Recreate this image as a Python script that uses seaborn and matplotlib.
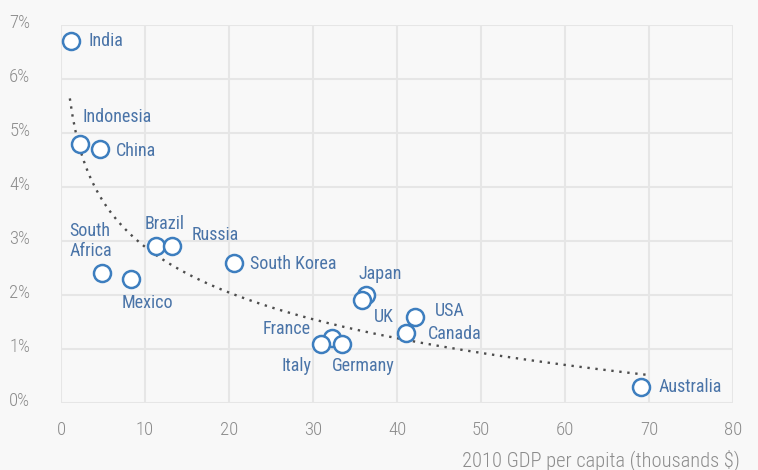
import numpy as np
import pandas as pd
import seaborn as sns
import matplotlib.pyplot as plt
from matplotlib import transforms

sns.set_theme(style='whitegrid')
plt.rcParams['font.family'] = ['Roboto Condensed', 'DejaVu Sans']

countries = ['India', 'Indonesia', 'China', 'South\nAfrica', 'Mexico', 'Brazil',
             'Russia', 'South Korea', 'Japan', 'UK', 'USA', 'Canada',
             'France', 'Italy', 'Germany', 'Australia']
gdp_per_capita = [1.2, 2.3, 4.6, 4.9, 8.3, 11.3, 13.2, 20.6, 36.3, 35.8,
                  42.1, 41.1, 32.3, 31.0, 33.5, 69.0]
growth_pct = [6.7, 4.8, 4.7, 2.4, 2.3, 2.9, 2.9, 2.6, 2.0, 1.9,
              1.6, 1.3, 1.2, 1.1, 1.1, 0.3]

# dotted log trend: growth = a + b * ln(gdp)
trend_a = 5.7
trend_b = -1.22
trend_range = (1.05, 69.6)

x_ticks = [0, 10, 20, 30, 40, 50, 60, 70, 80]
y_ticks = [0, 1, 2, 3, 4, 5, 6, 7]

# label placement, pixels from the marker
label_pos = {
    'India': (17, 0, 'left'), 'Indonesia': (2, 27, 'left'),
    'China': (16, -2, 'left'), 'South\nAfrica': (-33, 32, 'left'),
    'Mexico': (17, -24, 'center'), 'Brazil': (9, 22, 'center'),
    'Russia': (20, 11, 'left'), 'South Korea': (16, -1, 'left'),
    'Japan': (14, 21, 'center'), 'UK': (12, -17, 'left'),
    'USA': (20, 6, 'left'), 'Canada': (22, -1, 'left'),
    'France': (-22, 9, 'right'), 'Italy': (-10, -22, 'right'),
    'Germany': (-11, -22, 'left'), 'Australia': (18, 0, 'left'),
}

df = pd.DataFrame({'country': countries, 'gdp': gdp_per_capita, 'growth': growth_pct})

bg = '#f8f8f8'
blue = '#3d7ebf'
label_blue = '#4a74a8'
grey = '#8c8c8c'

fig = plt.figure(figsize=(7.58, 4.70), dpi=100, facecolor=bg)
ax = fig.add_axes([0.0805, 0.1426, 0.8865, 0.8042])
ax.set_facecolor(bg)

xs = np.linspace(*trend_range, 200)
ax.plot(xs, trend_a + trend_b * np.log(xs), linestyle=(0, (1, 2.4)),
        color='#4d4d4d', lw=1.7, zorder=2)

sns.scatterplot(data=df, x='gdp', y='growth', ax=ax, s=150,
                facecolor='white', edgecolor=blue, linewidth=1.8, zorder=3)

for _, row in df.iterrows():
    dx, dy, ha = label_pos[row['country']]
    ax.annotate(row['country'], (row['gdp'], row['growth']), xytext=(dx, dy),
                textcoords='offset pixels', ha=ha, va='center',
                color=label_blue, fontsize=13, linespacing=1.15)

ax.set_xlim(0, 80)
ax.set_ylim(0, 7)
ax.set_xticks(x_ticks)
ax.set_yticks(y_ticks)
ax.set_yticklabels([f'{t}%' for t in y_ticks])
ax.grid(True, color='#e6e6e6', lw=1.5)
for s in ax.spines.values():
    s.set_visible(False)
ax.tick_params(axis='both', colors=grey, labelsize=13.5, length=0)
ax.tick_params(axis='x', pad=13)
ax.tick_params(axis='y', pad=22)
for lab in ax.get_xticklabels() + ax.get_yticklabels():
    lab.set_fontweight('light')
shift = transforms.ScaledTranslation(0, 4 / 100, fig.dpi_scale_trans)
for lab in ax.get_yticklabels():
    lab.set_transform(lab.get_transform() + shift)
ax.set_xlabel('')
ax.set_ylabel('')

fig.text(740 / 758, 10 / 470, '2010 GDP per capita (thousands $)', ha='right',
         va='center', color=grey, fontsize=14.8, fontweight='light')

fig.savefig('out.png', dpi=100, facecolor=bg)
